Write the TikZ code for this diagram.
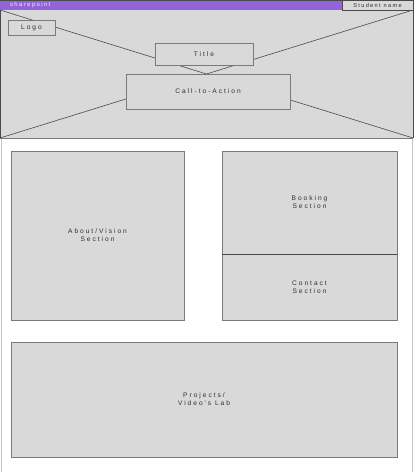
\documentclass[tikz,border=0pt]{standalone}
\usepackage{fontspec}
\setmainfont{Liberation Sans}
\newfontfamily\wfont[LetterSpace=30]{Liberation Sans}
\newfontfamily\barfont[LetterSpace=24]{Liberation Sans}
\definecolor{wfill}{HTML}{D9D9D9}
\definecolor{wline}{HTML}{7A7A7A}
\definecolor{wdark}{HTML}{4A4A4A}
\definecolor{wtext}{HTML}{2E2E2E}
\definecolor{wpurple}{HTML}{9264DA}
\definecolor{wpage}{HTML}{C4C4C4}
\begin{document}
\begin{tikzpicture}[x=1pt,y=-1pt,
  wbox/.style={draw=wline,fill=wfill,line width=0.8pt},
  wlabel/.style={font=\wfont\fontsize{6.6}{7.8}\selectfont,text=wtext,align=center},
  xline/.style={draw=wdark,line width=0.6pt}]
\useasboundingbox (0,0) rectangle (414,472);
% page frame (sides only)
\draw[wpage,line width=1pt] (1,10) -- (1,472) (412.5,10) -- (412.5,472);
% header image placeholder
\fill[wfill] (0,10) rectangle (413,138);
\coordinate (htl) at (0,10);
\coordinate (htr) at (413,10);
\coordinate (hbl) at (0,138);
\coordinate (hbr) at (413,138);
\draw[xline] (htl) -- (hbr) (htr) -- (hbl);
\draw[wdark,line width=1pt] (0.5,138) -- (0.5,0.5) -- (413,0.5) -- (413,138);
\draw[wline,line width=0.8pt] (0,138) -- (413,138);
% top bar
\fill[wpurple] (0,0.8) rectangle (342,10);
\node[font=\barfont\fontsize{5.9}{6}\selectfont,text=white!88!wpurple,anchor=west] (site) at (6.5,5.4) {sharepoint};
\node[draw=wdark,fill=wfill,line width=0.6pt,minimum width=71pt,minimum height=10pt,inner sep=0pt,
  font=\barfont\fontsize{5.6}{6}\selectfont,text=wtext] (student) at (377.5,5.2) {Student name};
% header boxes
\node[wbox,minimum width=47pt,minimum height=15pt,inner sep=0pt,wlabel] (logo) at (31.5,27.5) {Logo};
\node[wbox,minimum width=98pt,minimum height=22pt,inner sep=0pt,wlabel] (title) at (204,54) {Title};
\node[wbox,minimum width=164pt,minimum height=35pt,inner sep=0pt,wlabel] (cta) at (208,91.5) {Call-to-Action};
% content sections
\node[wbox,minimum width=173pt,minimum height=169pt,inner sep=0pt,wlabel] (about) at (97.5,235.5) {About/Vision\\Section};
\node[wbox,minimum width=175pt,minimum height=103pt,inner sep=0pt,wlabel] (booking) at (309.5,202.5) {Booking\\Section};
\node[wbox,minimum width=175pt,minimum height=66pt,inner sep=0pt,wlabel] (contact) at (309.5,287) {Contact\\Section};
\draw[wdark,line width=0.7pt] (booking.south west) -- (booking.south east);
\node[wbox,minimum width=386pt,minimum height=115pt,inner sep=0pt,wlabel] (projects) at (204,399.5) {Projects/\\Video's Lab};
\end{tikzpicture}
\end{document}
